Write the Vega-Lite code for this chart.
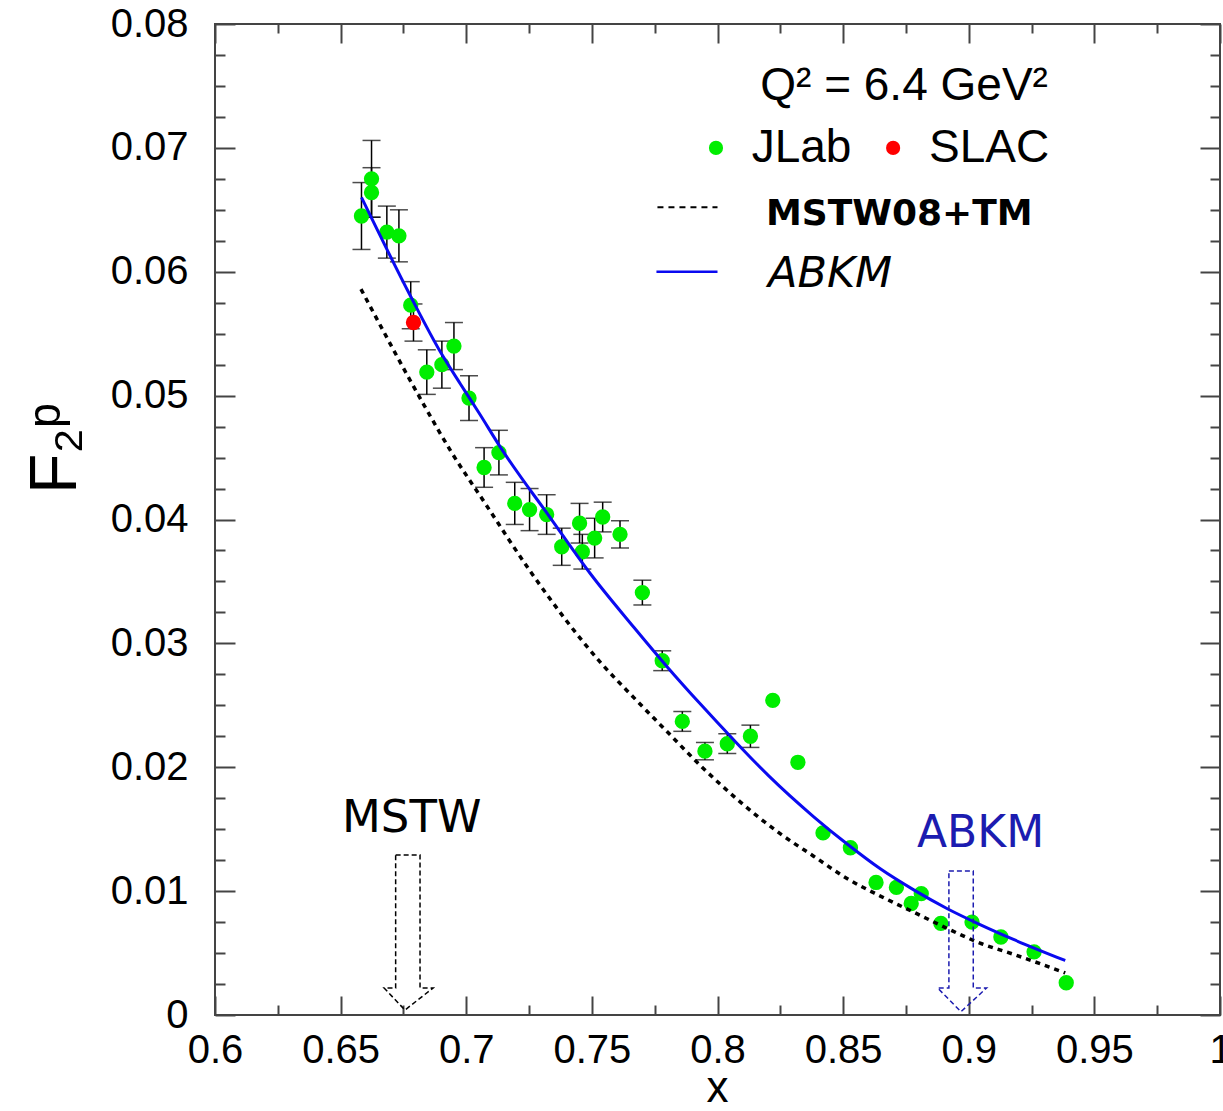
{
  "$schema": "https://vega.github.io/schema/vega-lite/v6.json",
  "width": 1005,
  "height": 991,
  "autosize": {"type": "none"},
  "padding": {"left": 215, "top": 24, "right": 3, "bottom": 96},
  "background": "white",
  "config": {
    "view": {"stroke": "#444444", "strokeWidth": 2},
    "axis": {
      "grid": false,
      "domain": false,
      "tickColor": "#444444",
      "tickWidth": 2,
      "labelColor": "black",
      "labelFont": "Liberation Sans",
      "titleFont": "Liberation Sans",
      "titleColor": "black",
      "titleFontWeight": "normal",
      "labelOverlap": false,
      "labelFlush": false
    }
  },
  "datasets": {
    "pts": [
      {"x": 0.6583, "y": 0.0645, "lo": 0.0618, "hi": 0.0672, "exp": "JLab"},
      {"x": 0.6623, "y": 0.0675, "lo": 0.0644, "hi": 0.0706, "exp": "JLab"},
      {"x": 0.6623, "y": 0.0664, "lo": 0.0644, "hi": 0.0684, "exp": "JLab"},
      {"x": 0.6684, "y": 0.0632, "lo": 0.0611, "hi": 0.0653, "exp": "JLab"},
      {"x": 0.6732, "y": 0.0629, "lo": 0.0608, "hi": 0.0650, "exp": "JLab"},
      {"x": 0.6779, "y": 0.0573, "lo": 0.0554, "hi": 0.0592, "exp": "JLab"},
      {"x": 0.6790, "y": 0.0559, "lo": 0.0544, "hi": 0.0574, "exp": "SLAC"},
      {"x": 0.6843, "y": 0.0519, "lo": 0.0501, "hi": 0.0537, "exp": "JLab"},
      {"x": 0.6903, "y": 0.0525, "lo": 0.0506, "hi": 0.0544, "exp": "JLab"},
      {"x": 0.6951, "y": 0.0540, "lo": 0.0521, "hi": 0.0559, "exp": "JLab"},
      {"x": 0.7011, "y": 0.0498, "lo": 0.0480, "hi": 0.0516, "exp": "JLab"},
      {"x": 0.7071, "y": 0.0442, "lo": 0.0426, "hi": 0.0458, "exp": "JLab"},
      {"x": 0.7130, "y": 0.0454, "lo": 0.0436, "hi": 0.0472, "exp": "JLab"},
      {"x": 0.7193, "y": 0.0413, "lo": 0.0396, "hi": 0.0430, "exp": "JLab"},
      {"x": 0.7252, "y": 0.0408, "lo": 0.0391, "hi": 0.0425, "exp": "JLab"},
      {"x": 0.7320, "y": 0.0404, "lo": 0.0388, "hi": 0.0420, "exp": "JLab"},
      {"x": 0.7380, "y": 0.0378, "lo": 0.0363, "hi": 0.0393, "exp": "JLab"},
      {"x": 0.7451, "y": 0.0397, "lo": 0.0381, "hi": 0.0413, "exp": "JLab"},
      {"x": 0.7462, "y": 0.0374, "lo": 0.0360, "hi": 0.0388, "exp": "JLab"},
      {"x": 0.7511, "y": 0.0385, "lo": 0.0369, "hi": 0.0401, "exp": "JLab"},
      {"x": 0.7543, "y": 0.0402, "lo": 0.0390, "hi": 0.0414, "exp": "JLab"},
      {"x": 0.7612, "y": 0.0388, "lo": 0.0377, "hi": 0.0399, "exp": "JLab"},
      {"x": 0.7701, "y": 0.0341, "lo": 0.0331, "hi": 0.0351, "exp": "JLab"},
      {"x": 0.7780, "y": 0.0286, "lo": 0.0278, "hi": 0.0294, "exp": "JLab"},
      {"x": 0.7860, "y": 0.0237, "lo": 0.0229, "hi": 0.0245, "exp": "JLab"},
      {"x": 0.7950, "y": 0.0213, "lo": 0.0206, "hi": 0.0220, "exp": "JLab"},
      {"x": 0.8039, "y": 0.0219, "lo": 0.0211, "hi": 0.0227, "exp": "JLab"},
      {"x": 0.8131, "y": 0.0225, "lo": 0.0216, "hi": 0.0234, "exp": "JLab"},
      {"x": 0.8220, "y": 0.0254, "lo": null, "hi": null, "exp": "JLab"},
      {"x": 0.8320, "y": 0.0204, "lo": null, "hi": null, "exp": "JLab"},
      {"x": 0.8420, "y": 0.0147, "lo": null, "hi": null, "exp": "JLab"},
      {"x": 0.8529, "y": 0.0135, "lo": null, "hi": null, "exp": "JLab"},
      {"x": 0.8631, "y": 0.0107, "lo": null, "hi": null, "exp": "JLab"},
      {"x": 0.8712, "y": 0.0103, "lo": null, "hi": null, "exp": "JLab"},
      {"x": 0.8771, "y": 0.0090, "lo": null, "hi": null, "exp": "JLab"},
      {"x": 0.8811, "y": 0.0098, "lo": null, "hi": null, "exp": "JLab"},
      {"x": 0.8889, "y": 0.0074, "lo": null, "hi": null, "exp": "JLab"},
      {"x": 0.9013, "y": 0.0075, "lo": null, "hi": null, "exp": "JLab"},
      {"x": 0.9128, "y": 0.0063, "lo": null, "hi": null, "exp": "JLab"},
      {"x": 0.9260, "y": 0.0051, "lo": null, "hi": null, "exp": "JLab"},
      {"x": 0.9388, "y": 0.0026, "lo": null, "hi": null, "exp": "JLab"}
    ],
    "abkm": [
      {"x": 0.6583, "y": 0.0660},
      {"x": 0.6779, "y": 0.0580},
      {"x": 0.6898, "y": 0.0535},
      {"x": 0.6978, "y": 0.0509},
      {"x": 0.7051, "y": 0.0486},
      {"x": 0.7137, "y": 0.0458},
      {"x": 0.7336, "y": 0.0401},
      {"x": 0.7495, "y": 0.0356},
      {"x": 0.7667, "y": 0.0313},
      {"x": 0.7800, "y": 0.0281},
      {"x": 0.7932, "y": 0.0251},
      {"x": 0.8065, "y": 0.0222},
      {"x": 0.8204, "y": 0.0193},
      {"x": 0.8383, "y": 0.0160},
      {"x": 0.8516, "y": 0.0138},
      {"x": 0.8648, "y": 0.0118},
      {"x": 0.8781, "y": 0.0101},
      {"x": 0.8913, "y": 0.0086},
      {"x": 0.9045, "y": 0.0073},
      {"x": 0.9178, "y": 0.0061},
      {"x": 0.9384, "y": 0.0044}
    ],
    "mstw": [
      {"x": 0.6581, "y": 0.0586},
      {"x": 0.6833, "y": 0.0492},
      {"x": 0.6939, "y": 0.0455},
      {"x": 0.7072, "y": 0.0414},
      {"x": 0.7259, "y": 0.0357},
      {"x": 0.7537, "y": 0.0284},
      {"x": 0.7668, "y": 0.0256},
      {"x": 0.7803, "y": 0.0228},
      {"x": 0.7934, "y": 0.0201},
      {"x": 0.8252, "y": 0.0146},
      {"x": 0.8384, "y": 0.0128},
      {"x": 0.8517, "y": 0.0110},
      {"x": 0.8648, "y": 0.0096},
      {"x": 0.8781, "y": 0.0083},
      {"x": 0.8913, "y": 0.0070},
      {"x": 0.9045, "y": 0.0058},
      {"x": 0.9178, "y": 0.0049},
      {"x": 0.9384, "y": 0.0034}
    ],
    "arrows": [
      {"arrow": "MSTW", "i": 1, "x": 0.6719, "y": 0.01292},
      {"arrow": "MSTW", "i": 2, "x": 0.6816, "y": 0.01292},
      {"arrow": "MSTW", "i": 3, "x": 0.6816, "y": 0.00218},
      {"arrow": "MSTW", "i": 4, "x": 0.6868, "y": 0.00218},
      {"arrow": "MSTW", "i": 5, "x": 0.6756, "y": 0.0004},
      {"arrow": "MSTW", "i": 6, "x": 0.6673, "y": 0.00218},
      {"arrow": "MSTW", "i": 7, "x": 0.6719, "y": 0.00218},
      {"arrow": "MSTW", "i": 8, "x": 0.6719, "y": 0.01292},
      {"arrow": "ABKM", "i": 1, "x": 0.8921, "y": 0.01163},
      {"arrow": "ABKM", "i": 2, "x": 0.9018, "y": 0.01163},
      {"arrow": "ABKM", "i": 3, "x": 0.9018, "y": 0.00218},
      {"arrow": "ABKM", "i": 4, "x": 0.9071, "y": 0.00218},
      {"arrow": "ABKM", "i": 5, "x": 0.8969, "y": 0.00027},
      {"arrow": "ABKM", "i": 6, "x": 0.8876, "y": 0.00218},
      {"arrow": "ABKM", "i": 7, "x": 0.8921, "y": 0.00218},
      {"arrow": "ABKM", "i": 8, "x": 0.8921, "y": 0.01163}
    ]
  },
  "layer": [
    {
      "data": {"name": "pts"},
      "transform": [{"filter": "datum.lo != null"}],
      "mark": {"type": "rule", "color": "black", "strokeWidth": 1.5},
      "encoding": {
        "x": {"field": "x", "type": "quantitative", "scale": {"domain": [0.6, 1], "nice": false, "zero": false},
              "axis": {"orient": "top", "values": [0.6, 0.65, 0.7, 0.75, 0.8, 0.85, 0.9, 0.95, 1], "tickSize": -19, "labels": false, "title": null}},
        "y": {"field": "lo", "type": "quantitative", "scale": {"domain": [0, 0.08], "nice": false, "zero": false},
              "axis": {"orient": "right", "values": [0, 0.01, 0.02, 0.03, 0.04, 0.05, 0.06, 0.07, 0.08], "tickSize": -20, "labels": false, "title": null}},
        "y2": {"field": "hi"}
      }
    },
    {
      "data": {"name": "pts"},
      "transform": [{"filter": "datum.lo != null"}],
      "mark": {"type": "tick", "orient": "horizontal", "color": "black", "size": 18, "thickness": 1.5},
      "encoding": {
        "x": {"field": "x", "type": "quantitative", "scale": {"domain": [0.6, 1], "nice": false, "zero": false},
              "axis": {"orient": "top", "values": [0.625, 0.675, 0.725, 0.775, 0.825, 0.875, 0.925, 0.975], "tickSize": -9, "labels": false, "title": null}},
        "y": {"field": "lo", "type": "quantitative", "scale": {"domain": [0, 0.08], "nice": false, "zero": false},
              "axis": {"orient": "right", "values": [0.0025, 0.005, 0.0075, 0.0125, 0.015, 0.0175, 0.0225, 0.025, 0.0275, 0.0325, 0.035, 0.0375, 0.0425, 0.045, 0.0475, 0.0525, 0.055, 0.0575, 0.0625, 0.065, 0.0675, 0.0725, 0.075, 0.0775], "tickSize": -10, "labels": false, "title": null}}
      }
    },
    {
      "data": {"name": "pts"},
      "transform": [{"filter": "datum.hi != null"}],
      "mark": {"type": "tick", "orient": "horizontal", "color": "black", "size": 18, "thickness": 1.5},
      "encoding": {
        "x": {"field": "x", "type": "quantitative", "axis": null},
        "y": {"field": "hi", "type": "quantitative", "axis": null}
      }
    },
    {
      "data": {"name": "pts"},
      "transform": [{"filter": "datum.exp == 'JLab'"}],
      "mark": {"type": "circle", "color": "#00ee00", "opacity": 1, "size": 235},
      "encoding": {
        "x": {"field": "x", "type": "quantitative", "axis": null},
        "y": {"field": "y", "type": "quantitative", "axis": null}
      }
    },
    {
      "data": {"name": "pts"},
      "transform": [{"filter": "datum.exp == 'SLAC'"}],
      "mark": {"type": "circle", "color": "#ff0000", "opacity": 1, "size": 235},
      "encoding": {
        "x": {"field": "x", "type": "quantitative", "axis": null},
        "y": {"field": "y", "type": "quantitative", "axis": null}
      }
    },
    {
      "data": {"name": "abkm"},
      "mark": {"type": "line", "color": "#0a0af0", "strokeWidth": 3, "interpolate": "monotone"},
      "encoding": {
        "x": {"field": "x", "type": "quantitative", "scale": {"domain": [0.6, 1], "nice": false, "zero": false},
              "axis": {"orient": "bottom", "values": [0.6, 0.65, 0.7, 0.75, 0.8, 0.85, 0.9, 0.95, 1], "format": "~g", "tickSize": -19, "labelPadding": 34, "labelFontSize": 40,
                       "title": "x", "titleFontSize": 44, "titleX": 502, "titleY": 86, "titleBaseline": "alphabetic", "titleAlign": "center"}},
        "y": {"field": "y", "type": "quantitative", "scale": {"domain": [0, 0.08], "nice": false, "zero": false},
              "axis": {"orient": "left", "values": [0, 0.01, 0.02, 0.03, 0.04, 0.05, 0.06, 0.07, 0.08], "format": "~g", "tickSize": -20, "labelPadding": 47, "labelFontSize": 40,
                       "title": "F₂ᵖ", "titleFontSize": 66, "titleX": -160, "titleY": 424, "titleAngle": -90, "titleBaseline": "middle", "titleAlign": "center"}}
      }
    },
    {
      "data": {"name": "mstw"},
      "mark": {"type": "line", "color": "black", "strokeWidth": 3.5, "strokeDash": [5, 5], "interpolate": "monotone"},
      "encoding": {
        "x": {"field": "x", "type": "quantitative", "scale": {"domain": [0.6, 1], "nice": false, "zero": false},
              "axis": {"orient": "bottom", "values": [0.625, 0.675, 0.725, 0.775, 0.825, 0.875, 0.925, 0.975], "tickSize": -10, "labels": false, "title": null}},
        "y": {"field": "y", "type": "quantitative", "scale": {"domain": [0, 0.08], "nice": false, "zero": false},
              "axis": {"orient": "left", "values": [0.0025, 0.005, 0.0075, 0.0125, 0.015, 0.0175, 0.0225, 0.025, 0.0275, 0.0325, 0.035, 0.0375, 0.0425, 0.045, 0.0475, 0.0525, 0.055, 0.0575, 0.0625, 0.065, 0.0675, 0.0725, 0.075, 0.0775], "tickSize": -10, "labels": false, "title": null}}
      }
    },
    {
      "data": {"name": "arrows"},
      "mark": {"type": "line", "strokeWidth": 1.5, "strokeDash": [5, 3]},
      "encoding": {
        "x": {"field": "x", "type": "quantitative", "axis": null},
        "y": {"field": "y", "type": "quantitative", "axis": null},
        "order": {"field": "i", "type": "quantitative"},
        "detail": {"field": "arrow", "type": "nominal"},
        "color": {"field": "arrow", "type": "nominal", "scale": {"domain": ["MSTW", "ABKM"], "range": ["#000000", "#1c1cb0"]}, "legend": null}
      }
    },
    {
      "data": {"values": [{"label": "MSTW"}]},
      "mark": {"type": "text", "font": "DejaVu Sans", "fontSize": 45, "color": "black", "align": "center", "baseline": "middle"},
      "encoding": {
        "x": {"datum": 0.6783, "type": "quantitative", "axis": null},
        "y": {"datum": 0.0159, "type": "quantitative", "axis": null},
        "text": {"field": "label"}
      }
    },
    {
      "data": {"values": [{"label": "ABKM"}]},
      "mark": {"type": "text", "font": "DejaVu Sans", "fontSize": 44, "color": "#1c1cb0", "align": "center", "baseline": "middle"},
      "encoding": {
        "x": {"datum": 0.9047, "type": "quantitative", "axis": null},
        "y": {"datum": 0.0146, "type": "quantitative", "axis": null},
        "text": {"field": "label"}
      }
    },
    {
      "data": {"values": [{"label": "Q² = 6.4 GeV²"}]},
      "mark": {"type": "text", "font": "Liberation Sans", "fontSize": 46, "color": "black", "align": "right", "baseline": "middle"},
      "encoding": {
        "x": {"datum": 0.9315, "type": "quantitative", "axis": null},
        "y": {"datum": 0.0750, "type": "quantitative", "axis": null},
        "text": {"field": "label"}
      }
    },
    {
      "data": {"values": [{"label": "JLab"}]},
      "mark": {"type": "text", "font": "Liberation Sans", "fontSize": 46, "color": "black", "align": "left", "baseline": "middle"},
      "encoding": {
        "x": {"datum": 0.8136, "type": "quantitative", "axis": null},
        "y": {"datum": 0.0700, "type": "quantitative", "axis": null},
        "text": {"field": "label"}
      }
    },
    {
      "data": {"values": [{"label": "SLAC"}]},
      "mark": {"type": "text", "font": "Liberation Sans", "fontSize": 46, "color": "black", "align": "left", "baseline": "middle"},
      "encoding": {
        "x": {"datum": 0.8842, "type": "quantitative", "axis": null},
        "y": {"datum": 0.0700, "type": "quantitative", "axis": null},
        "text": {"field": "label"}
      }
    },
    {
      "data": {"values": [{"label": "JLab"}]},
      "mark": {"type": "circle", "color": "#00ee00", "opacity": 1, "size": 200},
      "encoding": {
        "x": {"datum": 0.7994, "type": "quantitative", "axis": null},
        "y": {"datum": 0.0700, "type": "quantitative", "axis": null}
      }
    },
    {
      "data": {"values": [{"label": "SLAC"}]},
      "mark": {"type": "circle", "color": "#ff0000", "opacity": 1, "size": 200},
      "encoding": {
        "x": {"datum": 0.8699, "type": "quantitative", "axis": null},
        "y": {"datum": 0.0700, "type": "quantitative", "axis": null}
      }
    },
    {
      "data": {"values": [{"label": "MSTW08+TM"}]},
      "mark": {"type": "rule", "color": "black", "strokeWidth": 2, "strokeDash": [6, 5]},
      "encoding": {
        "x": {"datum": 0.7761, "type": "quantitative", "axis": null},
        "x2": {"datum": 0.8000},
        "y": {"datum": 0.0652, "type": "quantitative", "axis": null}
      }
    },
    {
      "data": {"values": [{"label": "ABKM"}]},
      "mark": {"type": "rule", "color": "#0a0af0", "strokeWidth": 2.5},
      "encoding": {
        "x": {"datum": 0.7757, "type": "quantitative", "axis": null},
        "x2": {"datum": 0.8000},
        "y": {"datum": 0.0600, "type": "quantitative", "axis": null}
      }
    },
    {
      "data": {"values": [{"label": "MSTW08+TM"}]},
      "mark": {"type": "text", "font": "DejaVu Sans", "fontSize": 36, "fontWeight": "bold", "color": "black", "align": "left", "baseline": "middle"},
      "encoding": {
        "x": {"datum": 0.8193, "type": "quantitative", "axis": null},
        "y": {"datum": 0.0647, "type": "quantitative", "axis": null},
        "text": {"field": "label"}
      }
    },
    {
      "data": {"values": [{"label": "ABKM"}]},
      "mark": {"type": "text", "font": "DejaVu Sans", "fontSize": 43, "fontStyle": "italic", "color": "black", "align": "left", "baseline": "middle"},
      "encoding": {
        "x": {"datum": 0.8201, "type": "quantitative", "axis": null},
        "y": {"datum": 0.0598, "type": "quantitative", "axis": null},
        "text": {"field": "label"}
      }
    }
  ],
  "resolve": {"axis": {"x": "independent", "y": "independent"}}
}
